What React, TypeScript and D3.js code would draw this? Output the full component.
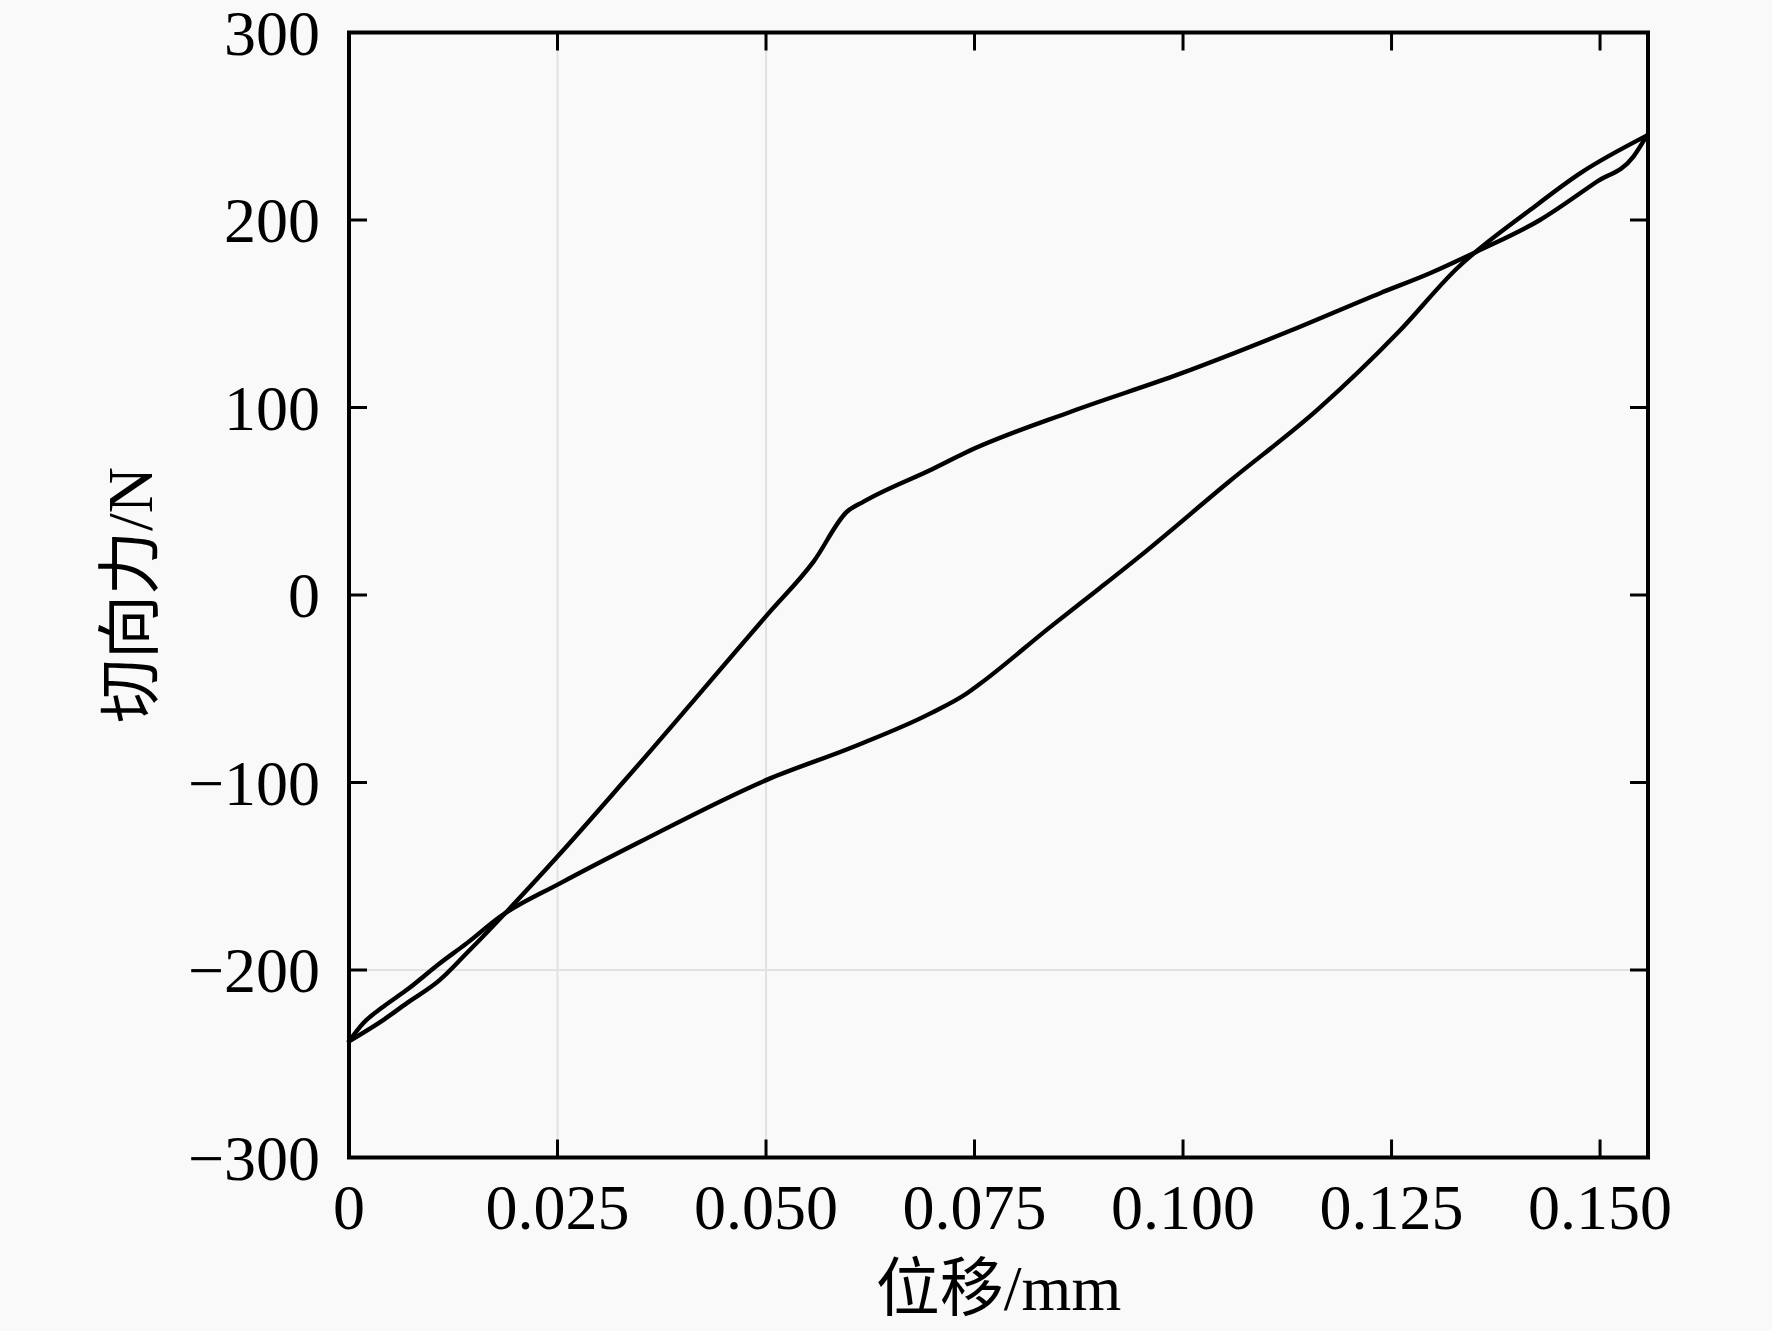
import * as d3 from 'd3'

// loading branch: from the lower-left turning point up to the upper-right tip
const loadDisp = [
  0, 0.0041, 0.0069, 0.0109, 0.0141, 0.0253, 0.0331, 0.0503, 0.0557, 0.0597, 0.0617, 0.0701, 0.0739,
  0.0867, 0.0996, 0.1124, 0.1237, 0.1296, 0.1352, 0.1428, 0.1496, 0.154, 0.1556,
]
const loadForce = [
  -238, -226.7, -217.8, -205.3, -191.1, -138, -98.7, -9.8, 17.8, 44.4, 49.8, 67.5, 75.9, 98, 117.9,
  140.1, 161.1, 171.6, 183.1, 200, 220.4, 233.8, 245,
]

// return branch, listed by increasing displacement (tip at the end)
const returnDisp = [
  0, 0.0017, 0.0041, 0.0069, 0.0109, 0.0141, 0.0181, 0.0253, 0.0349, 0.0505, 0.0605, 0.0696, 0.0741,
  0.0755, 0.0841, 0.09, 0.0948, 0.1055, 0.1162, 0.1258, 0.1328, 0.1416, 0.1476, 0.1556,
]
const returnForce = [
  -238, -228.4, -219.6, -210.7, -196.4, -185.8, -171.6, -153.8, -131.6, -97.8, -80.9, -63.4, -52.4,
  -47.9, -17, 3.6, 20.6, 60.4, 99.1, 140.1, 174, 205.3, 224.9, 245,
]

const xTicks = [0, 0.025, 0.05, 0.075, 0.1, 0.125, 0.15]
const xTickLabels = ['0', '0.025', '0.050', '0.075', '0.100', '0.125', '0.150']
const yTicks = [-300, -200, -100, 0, 100, 200, 300]
const xGrid = [0.025, 0.05]
const yGrid = [-200]

const W = 1772
const H = 1331
const left = 349
const right = 1648
const top = 32.5
const bottom = 1157.5
const tick = 18
const font = '"Liberation Serif", "Times New Roman", "Noto Sans CJK SC", serif'

export default function App() {
  const x = d3.scaleLinear().domain([0, 0.15575]).range([left, right])
  const y = d3.scaleLinear().domain([-300, 300]).range([bottom, top])

  const line = d3
    .line<[number, number]>()
    .x((d) => x(d[0]))
    .y((d) => y(d[1]))
    .curve(d3.curveMonotoneX)

  const loading = loadDisp.map((d, i) => [d, loadForce[i]] as [number, number])
  const returning = returnDisp.map((d, i) => [d, returnForce[i]] as [number, number])

  const minus = (v: number) => (v < 0 ? `\u2212${Math.abs(v)}` : `${v}`)

  return (
    <div style={{ position: 'absolute', left: 0, top: 0 }}>
      <svg width={W} height={H} style={{ display: 'block' }}>
        <rect x={0} y={0} width={W} height={H} fill="#f9f9f9" />

        {xGrid.map((g) => (
          <line key={`gx${g}`} x1={x(g)} x2={x(g)} y1={top} y2={bottom} stroke="#e2e2e2" strokeWidth={2} />
        ))}
        {yGrid.map((g) => (
          <line key={`gy${g}`} x1={left} x2={right} y1={y(g)} y2={y(g)} stroke="#e2e2e2" strokeWidth={2} />
        ))}

        {[loading, returning].map((branch, i) => (
          <path
            key={`branch${i}`}
            d={line(branch) ?? ''}
            fill="none"
            stroke="#000"
            strokeWidth={4.4}
            strokeLinejoin="round"
            strokeLinecap="round"
          />
        ))}

        {xTicks.map((t) => (
          <g key={`xt${t}`} stroke="#000" strokeWidth={3}>
            <line x1={x(t)} x2={x(t)} y1={bottom} y2={bottom - tick} />
            <line x1={x(t)} x2={x(t)} y1={top} y2={top + tick} />
          </g>
        ))}
        {yTicks.map((t) => (
          <g key={`yt${t}`} stroke="#000" strokeWidth={3}>
            <line x1={left} x2={left + tick} y1={y(t)} y2={y(t)} />
            <line x1={right} x2={right - tick} y1={y(t)} y2={y(t)} />
          </g>
        ))}

        <rect x={left} y={top} width={right - left} height={bottom - top} fill="none" stroke="#000" strokeWidth={4} />

        {xTicks.map((t, i) => (
          <text key={`xl${t}`} x={x(t)} y={bottom + 71} textAnchor="middle" fontFamily={font} fontSize={64} fill="#000">
            {xTickLabels[i]}
          </text>
        ))}
        {yTicks.map((t) => (
          <text key={`yl${t}`} x={left - 29} y={y(t) + 22} textAnchor="end" fontFamily={font} fontSize={64} fill="#000">
            {minus(t)}
          </text>
        ))}

        <text x={(left + right) / 2} y={1310} textAnchor="middle" fontFamily={font} fontSize={64} fill="#000">
          位移/mm
        </text>
        <text
          transform={`translate(152, ${(top + bottom) / 2}) rotate(-90)`}
          textAnchor="middle"
          fontFamily={font}
          fontSize={64}
          fill="#000"
        >
          切向力/N
        </text>
      </svg>
    </div>
  )
}
